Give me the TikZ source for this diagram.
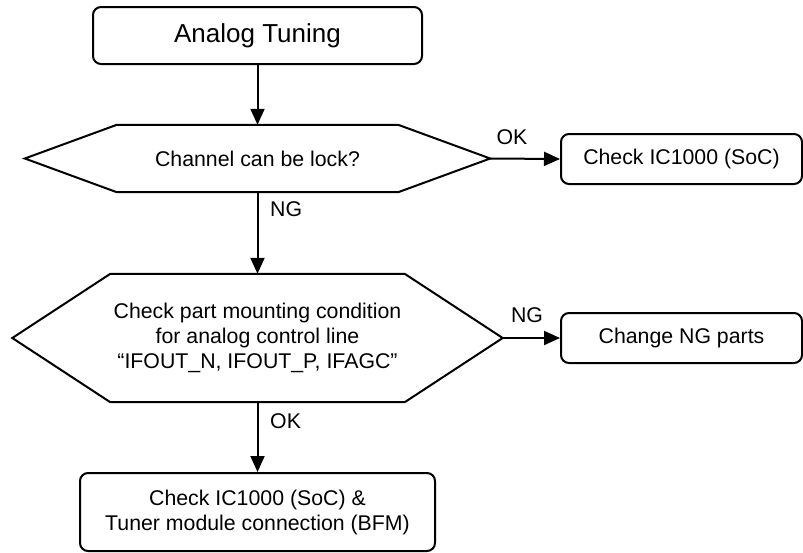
\documentclass[tikz,border=0pt]{standalone}
\usepackage{fontspec}
\setmainfont{Liberation Sans}
\usetikzlibrary{arrows.meta}
\begin{document}
\begin{tikzpicture}[x=1pt,y=-1pt,
  lw/.style={line width=2pt},
  rbox/.style={draw,lw,rounded corners=8pt,align=center,inner sep=0pt,font=\fontsize{21.3}{25}\selectfont},
  hexarea/.style={draw=none,align=center,inner sep=0pt,font=\fontsize{21.3}{25}\selectfont},
  lbl/.style={inner sep=0pt,font=\fontsize{21.3}{25}\selectfont},
  conn/.style={lw,-{Triangle[length=16pt,width=14pt]}}]
\useasboundingbox (0,0) rectangle (803,552);
\node[rbox,minimum width=329pt,minimum height=57pt,font=\fontsize{26}{30}\selectfont] (start) at (257.5,35.5) {Analog Tuning};
\node[hexarea,minimum width=465pt,minimum height=67pt] (h1) at (257.5,158.5) {Channel can be lock?};
\draw[lw,line join=miter] (h1.west) -- ([xshift=92pt]h1.north west) -- ([xshift=-92pt]h1.north east) -- (h1.east) -- ([xshift=-92pt]h1.south east) -- ([xshift=92pt]h1.south west) -- cycle;
\node[rbox,minimum width=241pt,minimum height=50pt] (c1) at (681.5,159) {Check IC1000 (SoC)};
\node[hexarea,minimum width=490pt,minimum height=128pt] (h2) at (257.5,338) {Check part mounting condition\\for analog control line\\“IFOUT\_N, IFOUT\_P, IFAGC”};
\draw[lw,line join=miter] (h2.west) -- ([xshift=98pt]h2.north west) -- ([xshift=-98pt]h2.north east) -- (h2.east) -- ([xshift=-98pt]h2.south east) -- ([xshift=98pt]h2.south west) -- cycle;
\node[rbox,minimum width=241pt,minimum height=50pt] (c2) at (681.5,338) {Change NG parts};
\node[rbox,minimum width=355pt,minimum height=78pt] (fin) at (257.5,512) {Check IC1000 (SoC) \&\\Tuner module connection (BFM)};
\draw[conn] (start.south) -- (h1.north);
\draw[conn] (h1.south) -- (h2.north);
\draw[conn] (h2.south) -- (fin.north);
\draw[conn] (h1.east) -- (c1.west);
\draw[conn] (h2.east) -- (c2.west);
\node[lbl] (ok1) at (512,137) {OK};
\node[lbl,anchor=west] (ng1) at (270,209) {NG};
\node[lbl] (ng2) at (527,315) {NG};
\node[lbl,anchor=west] (ok2) at (270,421.5) {OK};
\end{tikzpicture}
\end{document}
